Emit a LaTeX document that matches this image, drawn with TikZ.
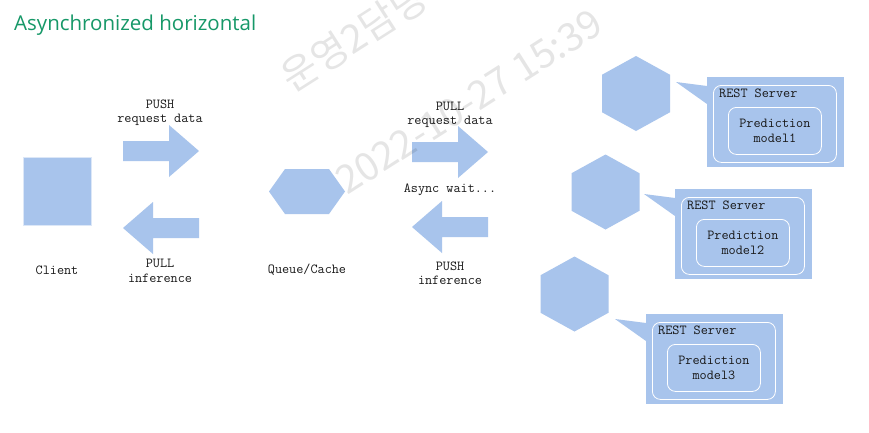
\documentclass[tikz,border=0pt]{standalone}
\usepackage{fontspec}
\setmainfont{Open Sans}
\newfontfamily\krfont{Noto Sans CJK KR}
\usepackage{xcolor}
\usetikzlibrary{positioning, calc}
\definecolor{boxBlue}{RGB}{168,196,236}
\definecolor{titleGreen}{RGB}{22,152,104}
\tikzset{
    blockFill/.style={fill=boxBlue},
    monoLabel/.style={font=\ttfamily\fontsize{13.8}{14.5}\selectfont, text=black!90, align=center, inner sep=0pt},
    frameBox/.style={draw=white, line width=0.8pt, rounded corners=8pt, anchor=north west},
    stampText/.style={font=\krfont\fontsize{39}{39}\selectfont, text=black, text opacity=0.10, rotate=32.5, anchor=base west, inner sep=0pt}
}

\begin{document}
\begin{tikzpicture}[x=1pt, y=-1pt]
    \fill[white] (0,0) rectangle (869,432);
    \useasboundingbox (0,0) rectangle (869,432);
    \node[anchor=base west, inner sep=0pt, text=titleGreen, font=\fontsize{20.5}{24}\selectfont] (title) at (14,30) {Asynchronized horizontal};
    % --- client and queue ---
    \node[blockFill, draw=boxBlue!40!white, line width=1pt, minimum size=68pt, inner sep=0pt] (client) at (57,191) {};
    \node[monoLabel] (clientLbl) at (57,270) {Client};
    \fill[blockFill] (269,191.5) -- (285,169) -- (329,169) -- (345,191.5) -- (329,214) -- (285,214) -- cycle;
    \node[monoLabel] (queueLbl) at (307,270) {Queue/Cache};
    % --- block arrows ---
    \foreach \ax/\ay/\d in {123/151/1, 199/228/-1, 412/152/1, 488/227/-1}
        \fill[blockFill] (\ax,\ay-10) -- ++({46*\d},0) -- ++(0,-16) -- ({\ax+76*\d},\ay) -- ({\ax+46*\d},\ay+26) -- ++(0,-16) -- (\ax,\ay+10) -- cycle;
    \node[monoLabel] (pushReq) at (160,112.5) {PUSH\\request data};
    \node[monoLabel] (pullInf) at (160,271) {PULL\\inference};
    \node[monoLabel] (pullReq) at (450,115) {PULL\\request data};
    \node[monoLabel] (asyncWait) at (450,190) {Async wait...};
    \node[monoLabel] (pushInf) at (450,273) {PUSH\\inference};
    % --- REST servers ---
    \foreach \i/\hx/\hy/\bx/\by in {1/636/93.5/707/77, 2/605.5/192/675/189, 3/574.5/294/646/314} {
        \fill[blockFill] (\hx,\hy-37.5) -- ++(34,18.75) -- ++(0,37.5) -- ++(-34,18.75) -- ++(-34,-18.75) -- ++(0,-37.5) -- cycle;
        \node[blockFill, anchor=north west, inner sep=0pt, minimum width=137pt, minimum height=90pt] (srv\i) at (\bx,\by) {};
        \fill[blockFill] ($(srv\i.north west)+(0,9)$) -- ($(srv\i.north west)+(-31,5)$) -- ($(srv\i.north west)+(0,27)$) -- cycle;
        \node[frameBox, minimum width=123pt, minimum height=77pt] (rest\i) at ($(srv\i.north west)+(6,8)$) {};
        \node[monoLabel, anchor=base west] (restLbl\i) at ($(rest\i.north west)+(6,12)$) {REST Server};
        \node[frameBox, monoLabel, minimum width=93pt, minimum height=47pt] (model\i) at ($(rest\i.north west)+(15,22)$) {Prediction\\model\i};
    }
    % --- stamp ---
    \node[stampText] (stamp1) at (292,94) {운영2담당};
    \node[stampText] (stamp2) at (347,196) {2022-10-27 15:39};
\end{tikzpicture}
\end{document}
